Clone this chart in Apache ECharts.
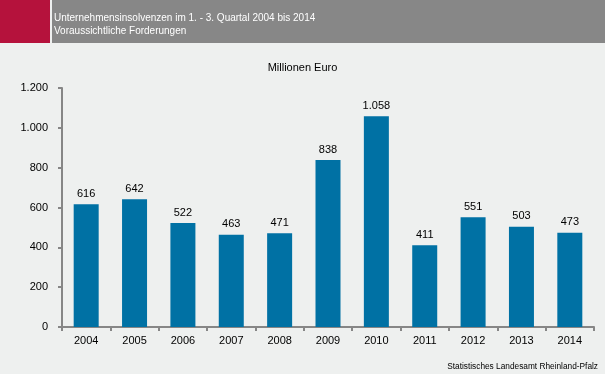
<!DOCTYPE html>
<html><head><meta charset="utf-8">
<script src="https://cdn.jsdelivr.net/npm/echarts@6/dist/echarts.min.js"></script>
<style>html,body{margin:0;padding:0;background:#eef0ef;}#c{width:605px;height:374px;}</style>
</head><body><div id="c"></div>
<script>
const categories = ['2004','2005','2006','2007','2008','2009','2010','2011','2012','2013','2014'];
const values = [616, 642, 522, 463, 471, 838, 1058, 411, 551, 503, 473];
const titleLines = ['Unternehmensinsolvenzen im 1. - 3. Quartal 2004 bis 2014', 'Voraussichtliche Forderungen'];
const unitLabel = 'Millionen Euro';
const sourceLabel = 'Statistisches Landesamt Rheinland-Pfalz';
const fmt = v => { const s = String(Math.round(v)); return s.replace(/\B(?=(\d{3})+(?!\d))/g, '.'); };
const chart = echarts.init(document.getElementById('c'));
const font = 'Arial, "Liberation Sans", sans-serif';
chart.setOption({
  backgroundColor: '#eef0ef',
  animation: false,
  graphic: [
    {type:'rect', shape:{x:0,y:0,width:50,height:43}, style:{fill:'#b5123c'}},
    {type:'rect', shape:{x:52,y:0,width:553,height:43}, style:{fill:'#878787'}},
    {type:'text', left:54, top:12, style:{text:titleLines.join('\n'), fill:'#fff', font:'10px '+font, lineHeight:13}},
    {type:'text', left:'center', top:62, style:{text:unitLabel, fill:'#000', font:'11px '+font}},
    {type:'text', right:7, top:363, style:{text:sourceLabel, fill:'#000', font:'8.3px '+font}}
  ],
  grid: {left:62, right:11, top:88, bottom:47},
  xAxis: {
    type:'category', data:categories,
    axisLine:{lineStyle:{color:'#868686', width:2}},
    axisTick:{show:true, length:4, lineStyle:{color:'#868686', width:2}},
    axisLabel:{color:'#000', fontSize:11, fontFamily:font, margin:8}
  },
  yAxis: {
    type:'value', min:0, max:1200, interval:200,
    axisLine:{show:true, lineStyle:{color:'#868686', width:2}},
    axisTick:{show:true, length:4, lineStyle:{color:'#868686', width:2}},
    splitLine:{show:false},
    axisLabel:{color:'#000', fontSize:11, fontFamily:font, margin:14, formatter: fmt}
  },
  series: [{
    type:'bar', data:values, barWidth:25,
    itemStyle:{color:'#0071a4'},
    label:{show:true, position:'top', color:'#000', fontSize:11, fontFamily:font, distance:5, formatter: p => fmt(p.value)}
  }]
});
</script></body></html>
